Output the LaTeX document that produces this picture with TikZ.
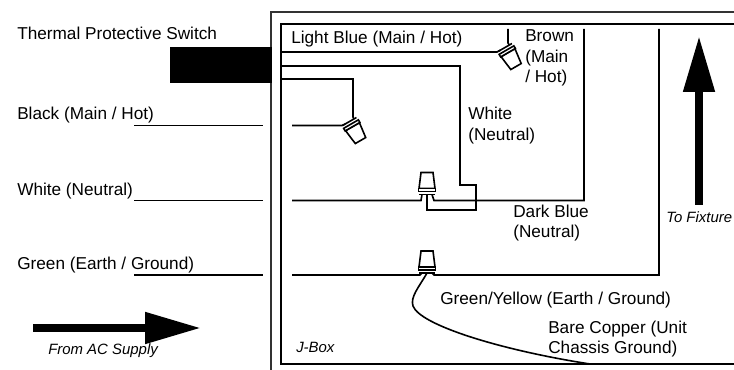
\documentclass[tikz,border=0pt]{standalone}
\usepackage{fontspec}
\setmainfont{Liberation Sans}
\usetikzlibrary{arrows.meta}

\tikzset{
    wire/.style={line width=1.2pt, line join=miter},
    boxline/.style={line width=1.2pt},
    label/.style={anchor=base west, inner sep=0pt, font=\fontsize{12.9}{15}\selectfont, align=left},
    note/.style={anchor=base west, inner sep=0pt, font=\fontsize{11.2}{13}\selectfont\itshape},
    flow/.style={line width=6pt, -{Triangle[length=42pt, width=22.5pt]}},
    wirenut/.pic={
        \draw[wire, fill=white] (-8, -6) -- (-6, -22) -- (6, -22) -- (8, -6) -- cycle;
        \draw[wire, fill=white] (-8.5, -6) -- (8.5, -6) -- (8.5, -3) -- (-8.5, -3) -- cycle;
        \draw[wire] (-8, 0) -- (8, 0);
        \coordinate (-l) at (-5, 0);
        \coordinate (-m) at (0, 0);
        \coordinate (-r) at (5, 0);
    }
}

\begin{document}
\begin{tikzpicture}[x=0.75pt, y=-0.75pt]
    \useasboundingbox (0, 0) rectangle (734, 370);

    % J-box outline
    \draw[boxline, black!80] (734, 12) -- (271, 12) -- (271, 370);
    \draw[boxline] (734, 24) -- (281, 24) -- (281, 364) -- (734, 364);

    % Thermal switch
    \fill (170, 47) rectangle (271.5, 83);

    % Wire nuts
    \pic (nutBrown) at (505, 47.5) [rotate=-150] {wirenut};
    \pic (nutBlack) at (349.5, 121.5) [rotate=-150] {wirenut};
    \pic (nutWhite) at (427, 194.5) {wirenut};
    \pic (nutGreen) at (427, 273) {wirenut};

    % Supply side stubs
    \coordinate (blackOut) at (134, 125.5);
    \coordinate (blackCut) at (263, 125.5);
    \coordinate (whiteOut) at (134, 200.5);
    \coordinate (whiteCut) at (263, 200.5);
    \coordinate (greenOut) at (134, 275);
    \coordinate (greenCut) at (263, 275);
    \draw[wire] (blackOut) -- (blackCut);
    \draw[wire] (whiteOut) -- (whiteCut);
    \draw[wire] (greenOut) -- (greenCut);

    % Switch leads
    \coordinate (leadA) at (281, 52);
    \coordinate (leadB) at (281, 66);
    \coordinate (leadC) at (281, 79);
    \draw[wire] (leadA) -- (497, 52) -- (nutBrown-r);
    \draw[wire] (508, 29) -- (508, 43) -- (nutBrown-l);
    \draw[wire] (leadB) -- (460, 66) -- (460, 185) -- (476, 185) -- (476, 210) -- (427, 210) -- (nutWhite-m);
    \draw[wire] (leadC) -- (353, 79) -- (353, 117) -- (nutBlack-l);

    % Line side
    \coordinate (blackIn) at (292, 125.5);
    \coordinate (whiteIn) at (292, 200.5);
    \coordinate (greenIn) at (292, 275);
    \draw[wire] (blackIn) -- (342, 125.5) -- (nutBlack-r);
    \draw[wire] (whiteIn) -- (421, 200.5) -- (nutWhite-l);
    \draw[wire] (greenIn) -- (420, 275) -- (nutGreen-l);

    % Fixture side
    \draw[wire] (nutWhite-r) -- (434, 200.5) -- (584, 200.5) -- (584, 29);
    \draw[wire] (nutGreen-r) -- (434, 275) -- (659, 275) -- (659, 29);

    % Bare copper
    \coordinate (copperEnd) at (590, 364);
    \draw[wire] (nutGreen-m) .. controls (419, 287) and (410, 297) .. (413, 306)
        .. controls (420, 325) and (500, 350) .. (copperEnd);

    % Flow arrows
    \coordinate (supplyA) at (33, 328);
    \coordinate (supplyB) at (201, 328);
    \coordinate (fixtureA) at (699, 205);
    \coordinate (fixtureB) at (699, 36);
    \draw[flow] (supplyA) -- (supplyB);
    \draw[flow] (fixtureA) -- (fixtureB);

    % Labels
    \node[label] (lblSwitch) at (17, 40) {Thermal Protective Switch};
    \node[label] (lblBlack) at (17, 119.5) {Black (Main / Hot)};
    \node[label] (lblWhite) at (17, 195.5) {White (Neutral)};
    \node[label] (lblGreen) at (17, 269) {Green (Earth / Ground)};
    \node[label] (lblLight) at (291, 44) {Light Blue (Main / Hot)};
    \node[label] (lblBrown) at (525, 42) {Brown};
    \node[label] (lblBrownB) at (525, 63) {(Main};
    \node[label] (lblBrownC) at (525, 83) {/ Hot)};
    \node[label] (lblNeutral) at (468, 120) {White};
    \node[label] (lblNeutralB) at (468, 140.5) {(Neutral)};
    \node[label] (lblDark) at (513, 217) {Dark Blue};
    \node[label] (lblDarkB) at (513, 238) {(Neutral)};
    \node[label] (lblYellow) at (440, 304) {Green/Yellow (Earth / Ground)};
    \node[label] (lblBare) at (548, 333) {Bare Copper (Unit};
    \node[label] (lblBareB) at (548, 353) {Chassis Ground)};
    \node[note] (lblSupply) at (48, 354.5) {From AC Supply};
    \node[note] (lblFixture) at (666, 222) {To Fixture};
    \node[note] (lblBox) at (296, 352) {J-Box};
\end{tikzpicture}
\end{document}
